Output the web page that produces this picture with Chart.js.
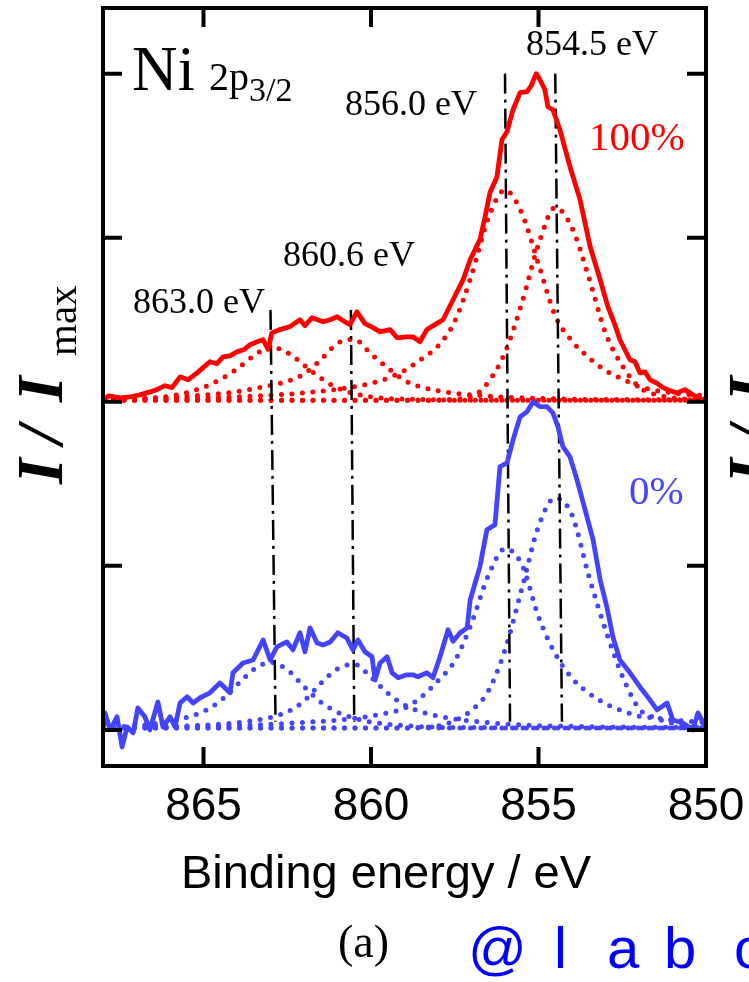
<!DOCTYPE html>
<html>
<head>
<meta charset="utf-8">
<title>Ni 2p3/2 XPS</title>
<script src="https://cdn.jsdelivr.net/npm/chart.js@4.4.1/dist/chart.umd.min.js"></script>
<style>
  html, body { margin: 0; padding: 0; background: #fff; }
  #wrap { position: relative; width: 749px; height: 982px; overflow: hidden; }
</style>
</head>
<body>
<div id="wrap"><canvas id="xps" width="749" height="982"></canvas></div>
<script>
// --- axes ---
const X_TICKS = [865, 860, 855, 850];
const Y_TICKS = [0, 0.5, 1, 1.5, 2];
const RED_OFFSET = 1;   // 100% spectrum is stacked one unit above 0%

// --- measured spectra (binding energy / eV, I/Imax) ---
const RED_E = [868.03, 867.82, 867.49, 867.19, 866.90, 866.60, 866.39, 866.15, 865.94, 865.70,
  865.46, 865.19, 865.01, 864.81, 864.60, 864.42, 864.21, 864.00, 863.79, 863.61,
  863.40, 863.22, 863.07, 862.96, 862.72, 862.42, 862.12, 861.97, 861.76, 861.43,
  861.22, 861.01, 860.78, 860.63, 860.42, 860.18, 859.94, 859.73, 859.43, 859.22,
  858.93, 858.75, 858.54, 858.33, 858.09, 857.85, 857.55, 857.25, 857.04, 856.75,
  856.60, 856.45, 856.24, 856.09, 855.94, 855.76, 855.55, 855.34, 855.22, 855.07,
  854.96, 854.81, 854.72, 854.57, 854.36, 854.06, 853.76, 853.46, 853.16, 852.93,
  852.72, 852.57, 852.27, 852.12, 851.97, 851.82, 851.67, 851.49, 851.28, 851.07,
  850.87, 850.63, 850.39, 850.24, 850.09, 850.00];
const RED_I = [0.006, 0.018, 0.012, 0.015, 0.021, 0.030, 0.037, 0.049, 0.043, 0.076,
  0.067, 0.088, 0.104, 0.122, 0.116, 0.137, 0.140, 0.152, 0.159, 0.174,
  0.183, 0.189, 0.160, 0.210, 0.220, 0.229, 0.250, 0.232, 0.256, 0.244,
  0.250, 0.259, 0.244, 0.235, 0.274, 0.238, 0.226, 0.213, 0.220, 0.195,
  0.198, 0.198, 0.183, 0.220, 0.235, 0.250, 0.311, 0.372, 0.433, 0.494,
  0.561, 0.637, 0.686, 0.799, 0.823, 0.890, 0.942, 0.945, 0.963, 1.000,
  0.982, 0.951, 0.899, 0.890, 0.829, 0.716, 0.616, 0.473, 0.372, 0.290,
  0.235, 0.189, 0.128, 0.122, 0.088, 0.091, 0.067, 0.058, 0.043, 0.034,
  0.027, 0.037, 0.021, 0.012, 0.006, 0.012];

const BLUE_E = [868.00, 867.94, 867.79, 867.58, 867.43, 867.28, 867.10, 866.96, 866.75, 866.60,
  866.36, 866.21, 866.00, 865.85, 865.70, 865.49, 865.31, 865.10, 864.81, 864.51,
  864.21, 864.12, 863.82, 863.52, 863.22, 863.01, 862.81, 862.51, 862.33, 862.12,
  861.97, 861.82, 861.61, 861.43, 861.22, 860.99, 860.72, 860.54, 860.39, 860.18,
  859.97, 859.88, 859.73, 859.52, 859.37, 859.19, 858.93, 858.75, 858.60, 858.33,
  858.15, 857.94, 857.70, 857.55, 857.34, 857.13, 857.04, 856.75, 856.54, 856.30,
  856.15, 855.94, 855.76, 855.55, 855.34, 855.16, 854.96, 854.75, 854.57, 854.42,
  854.27, 854.06, 853.85, 853.61, 853.37, 853.16, 852.96, 852.78, 852.57, 852.27,
  851.97, 851.67, 851.46, 851.16, 850.99, 850.69, 850.39, 850.24, 850.00];
const BLUE_I = [0.000, 0.052, 0.000, 0.040, -0.052, 0.009, -0.009, 0.067, 0.040, 0.000,
  0.085, 0.009, 0.040, 0.009, 0.082, 0.101, 0.082, 0.098, 0.113, 0.143,
  0.113, 0.174, 0.204, 0.213, 0.274, 0.213, 0.253, 0.268, 0.244, 0.296,
  0.238, 0.311, 0.265, 0.259, 0.268, 0.296, 0.280, 0.244, 0.274, 0.238,
  0.223, 0.152, 0.204, 0.223, 0.174, 0.159, 0.168, 0.168, 0.162, 0.174,
  0.159, 0.223, 0.305, 0.270, 0.296, 0.311, 0.396, 0.497, 0.610, 0.625,
  0.802, 0.814, 0.884, 0.954, 0.970, 1.000, 0.985, 0.985, 0.966, 0.924,
  0.863, 0.832, 0.762, 0.671, 0.579, 0.457, 0.375, 0.284, 0.213, 0.174,
  0.131, 0.091, 0.061, 0.082, 0.030, 0.021, 0.000, 0.052, 0.006];

// --- fitted components, sampled on a 0.5 eV grid ---
const FIT_E = [868, 867.5, 867, 866.5, 866, 865.5, 865, 864.5, 864, 863.5,
  863, 862.5, 862, 861.5, 861, 860.5, 860, 859.5, 859, 858.5,
  858, 857.5, 857, 856.5, 856, 855.5, 855, 854.5, 854, 853.5,
  853, 852.5, 852, 851.5, 851, 850.5, 850];

const RED_FIT_863 = [0.006, 0.007, 0.008, 0.011, 0.017, 0.028, 0.044, 0.068, 0.100, 0.140,
  0.166, 0.150, 0.112, 0.072, 0.042, 0.025, 0.015, 0.010, 0.008, 0.007,
  0.006, 0.005, 0.005, 0.005, 0.005, 0.005, 0.005, 0.005, 0.005, 0.005,
  0.005, 0.005, 0.005, 0.005, 0.005, 0.005, 0.005];
const RED_FIT_860 = [0.008, 0.009, 0.010, 0.012, 0.014, 0.017, 0.020, 0.025, 0.031, 0.040,
  0.050, 0.062, 0.085, 0.128, 0.178, 0.190, 0.146, 0.103, 0.065, 0.045,
  0.034, 0.026, 0.021, 0.017, 0.014, 0.012, 0.010, 0.009, 0.008, 0.007,
  0.007, 0.007, 0.006, 0.006, 0.006, 0.006, 0.006];
const RED_FIT_856 = [0.007, 0.007, 0.008, 0.009, 0.010, 0.011, 0.012, 0.013, 0.015, 0.017,
  0.020, 0.023, 0.027, 0.032, 0.038, 0.046, 0.056, 0.072, 0.095, 0.130,
  0.170, 0.245, 0.385, 0.560, 0.645, 0.575, 0.420, 0.262, 0.185, 0.135,
  0.095, 0.070, 0.046, 0.035, 0.027, 0.022, 0.018];
const RED_FIT_854 = [0.005, 0.005, 0.005, 0.005, 0.005, 0.005, 0.005, 0.005, 0.005, 0.005,
  0.005, 0.005, 0.005, 0.005, 0.005, 0.005, 0.005, 0.005, 0.005, 0.005,
  0.005, 0.008, 0.015, 0.060, 0.150, 0.300, 0.480, 0.592, 0.530, 0.380,
  0.210, 0.110, 0.045, 0.022, 0.012, 0.008, 0.006];

const BLUE_FIT_863 = [0.008, 0.010, 0.013, 0.018, 0.025, 0.038, 0.056, 0.088, 0.137, 0.184,
  0.206, 0.183, 0.132, 0.085, 0.054, 0.036, 0.024, 0.017, 0.013, 0.010,
  0.008, 0.007, 0.007, 0.007, 0.006, 0.006, 0.006, 0.006, 0.006, 0.006,
  0.006, 0.006, 0.006, 0.006, 0.006, 0.006, 0.006];
const BLUE_FIT_860 = [0.008, 0.009, 0.009, 0.010, 0.011, 0.012, 0.014, 0.018, 0.022, 0.029,
  0.038, 0.055, 0.088, 0.142, 0.186, 0.200, 0.160, 0.112, 0.076, 0.055,
  0.042, 0.033, 0.027, 0.022, 0.018, 0.015, 0.013, 0.012, 0.011, 0.010,
  0.009, 0.009, 0.008, 0.008, 0.008, 0.007, 0.007];
const BLUE_FIT_856 = [0.008, 0.008, 0.009, 0.009, 0.010, 0.011, 0.012, 0.013, 0.014, 0.015,
  0.017, 0.020, 0.023, 0.026, 0.030, 0.035, 0.042, 0.052, 0.066, 0.100,
  0.150, 0.210, 0.325, 0.470, 0.552, 0.505, 0.345, 0.232, 0.158, 0.112,
  0.080, 0.058, 0.042, 0.036, 0.030, 0.026, 0.022];
const BLUE_FIT_854 = [0.006, 0.006, 0.006, 0.006, 0.006, 0.006, 0.006, 0.006, 0.006, 0.006,
  0.006, 0.006, 0.006, 0.006, 0.006, 0.006, 0.006, 0.006, 0.006, 0.008,
  0.012, 0.028, 0.060, 0.118, 0.244, 0.430, 0.620, 0.707, 0.655, 0.470,
  0.305, 0.165, 0.065, 0.036, 0.020, 0.010, 0.007];

const BASE_E = [868, 850];
const RED_BASE = [0.005, 0.005];
const BLUE_BASE = [0.006, 0.006];

// --- peak guides (top at the labelled energy) ---
const GUIDE_E = [863.0, 860.6, 856.0, 854.5];
const GUIDE_E_LOW = [862.85, 860.5, 855.85, 854.3];
const GUIDE_TOP = [1.28, 1.28, 2.0, 2.0];
const GUIDE_BOTTOM = [0.025, 0.025, 0.025, 0.025];

const RED = '#ff0000';
const BLUE = '#4444ff';

const pts = (xs, ys, off = 0) => xs.map((x, i) => ({ x, y: ys[i] + off }));

const solid = (xs, ys, off, color) => ({
  data: pts(xs, ys, off), borderColor: color, borderWidth: 4.8,
  borderJoinStyle: 'round', borderCapStyle: 'round', pointRadius: 0, tension: 0, order: 0
});
const dotted = (xs, ys, off, color) => ({
  data: pts(xs, ys, off), borderColor: color, borderWidth: 5,
  borderDash: [0, 10.5], borderCapStyle: 'round', pointRadius: 0,
  cubicInterpolationMode: 'monotone', order: 2
});

const datasets = [
  solid(RED_E, RED_I, RED_OFFSET, RED),
  solid(BLUE_E, BLUE_I, 0, BLUE),
  dotted(BASE_E, RED_BASE, RED_OFFSET, RED),
  dotted(FIT_E, RED_FIT_863, RED_OFFSET, RED),
  dotted(FIT_E, RED_FIT_860, RED_OFFSET, RED),
  dotted(FIT_E, RED_FIT_856, RED_OFFSET, RED),
  dotted(FIT_E, RED_FIT_854, RED_OFFSET, RED),
  dotted(BASE_E, BLUE_BASE, 0, BLUE),
  dotted(FIT_E, BLUE_FIT_863, 0, BLUE),
  dotted(FIT_E, BLUE_FIT_860, 0, BLUE),
  dotted(FIT_E, BLUE_FIT_856, 0, BLUE),
  dotted(FIT_E, BLUE_FIT_854, 0, BLUE),
];
GUIDE_E.forEach((e, i) => {
  datasets.push({
    data: [{ x: e, y: GUIDE_TOP[i] }, { x: GUIDE_E_LOW[i], y: GUIDE_BOTTOM[i] }],
    borderColor: '#000', borderWidth: 2.5, borderDash: [20, 6, 3, 6],
    pointRadius: 0, tension: 0, order: 1
  });
});

const SERIF = '"Liberation Serif", "Times New Roman", serif';
const SANS = '"Liberation Sans", Arial, sans-serif';
const TICK = 19;

function text(ctx, s, x, y, font, color, align = 'left') {
  ctx.font = font;
  ctx.fillStyle = color;
  ctx.textAlign = align;
  ctx.textBaseline = 'alphabetic';
  ctx.fillText(s, x, y);
}

// rotated "I / Imax": baseline at screen x = bx, reading upwards from screen y = by
function yTitle(ctx, bx, by) {
  ctx.save();
  ctx.translate(bx, by);
  ctx.rotate(-Math.PI / 2);
  ctx.fillStyle = '#000';
  ctx.textAlign = 'left';
  ctx.font = 'italic bold 66px ' + SERIF;
  ctx.fillText('I', 0, 0);
  ctx.fillText('/', 40, 0);
  ctx.fillText('I', 82, 0);
  ctx.font = '41px ' + SERIF;
  ctx.fillText('max', 128, 14);
  ctx.restore();
}

const frame = {
  id: 'frame',
  afterDatasetsDraw(chart) {
    const { ctx, chartArea: a, scales: { x, y } } = chart;
    ctx.save();
    ctx.strokeStyle = '#000';
    ctx.lineWidth = 4;
    ctx.lineCap = 'butt';
    ctx.strokeRect(a.left, a.top, a.right - a.left, a.bottom - a.top);

    ctx.beginPath();
    X_TICKS.forEach(v => {
      const px = x.getPixelForValue(v);
      ctx.moveTo(px, a.bottom); ctx.lineTo(px, a.bottom - TICK);
      ctx.moveTo(px, a.top); ctx.lineTo(px, a.top + TICK);
    });
    Y_TICKS.forEach(v => {
      const py = y.getPixelForValue(v);
      ctx.moveTo(a.left, py); ctx.lineTo(a.left + TICK, py);
      ctx.moveTo(a.right, py); ctx.lineTo(a.right - TICK, py);
    });
    ctx.stroke();

    X_TICKS.forEach(v => text(ctx, String(v), x.getPixelForValue(v), 820, '46px ' + SANS, '#000', 'center'));
    text(ctx, 'Binding energy / eV', 386, 888, '47px ' + SANS, '#000', 'center');

    // panel title
    text(ctx, 'Ni', 132, 90, '63px ' + SERIF, '#000');
    text(ctx, '2p', 209, 90, '40px ' + SERIF, '#000');
    text(ctx, '3/2', 249, 101, '34px ' + SERIF, '#000');

    // peak positions
    text(ctx, '854.5 eV', 526, 55, '36px ' + SERIF, '#000');
    text(ctx, '856.0 eV', 345, 115, '36px ' + SERIF, '#000');
    text(ctx, '860.6 eV', 283, 266, '36px ' + SERIF, '#000');
    text(ctx, '863.0 eV', 133, 313, '36px ' + SERIF, '#000');

    text(ctx, '100%', 589, 150, '41px ' + SERIF, RED);
    text(ctx, '0%', 629, 504, '41px ' + SERIF, BLUE);

    yTitle(ctx, 62, 484);
    yTitle(ctx, 773, 484);

    text(ctx, '(a)', 338, 957, '46px ' + SERIF, '#000');
    const mark = [['@', 468], ['l', 554], ['a', 607], ['b', 664], ['o', 734]];
    mark.forEach(([c, px]) => text(ctx, c, px, 968, '58px ' + SANS, '#0000ff'));
    ctx.restore();
  }
};

new Chart(document.getElementById('xps'), {
  type: 'line',
  data: { datasets },
  options: {
    responsive: false,
    devicePixelRatio: 1,
    animation: false,
    events: [],
    layout: { padding: { left: 103, right: 43, top: 8, bottom: 216 } },
    plugins: { legend: { display: false }, tooltip: { enabled: false } },
    scales: {
      x: { type: 'linear', reverse: true, min: 850, max: 868, display: false },
      y: { type: 'linear', min: -0.11, max: 2.2, display: false }
    }
  },
  plugins: [frame]
});
</script>
</body>
</html>
